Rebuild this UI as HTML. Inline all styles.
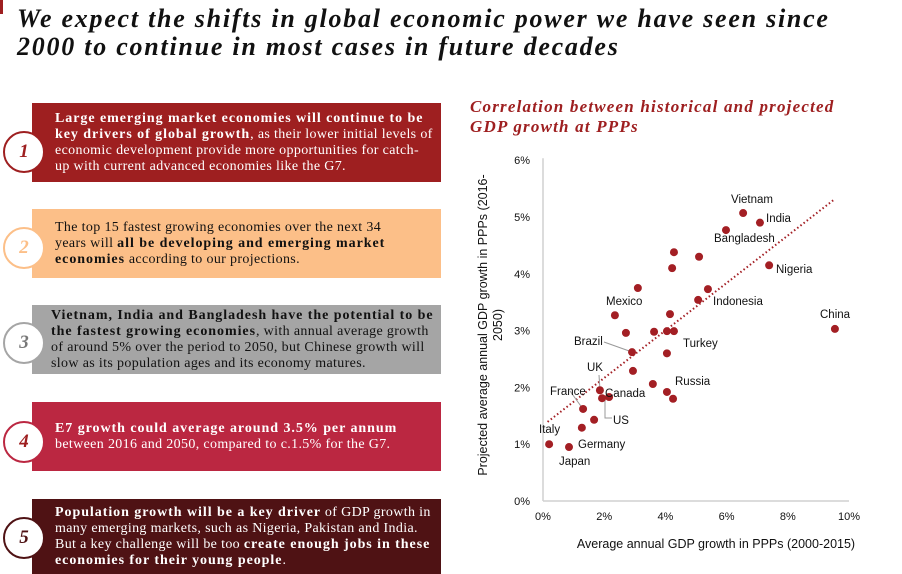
<!DOCTYPE html>
<html><head><meta charset="utf-8">
<style>
body{margin:0;width:902px;height:574px;background:#fff;position:relative;overflow:hidden;font-family:"Liberation Serif",serif}
.abs{position:absolute}
h1{position:absolute;left:17px;top:5px;margin:0;font-size:26px;line-height:28px;font-style:italic;font-weight:bold;color:#111;letter-spacing:1.75px;white-space:nowrap}
.box{position:absolute;left:32px;width:409px;font-size:14px;line-height:16px;letter-spacing:0.35px;box-sizing:border-box;padding-left:23px;padding-right:0;display:flex;align-items:center;white-space:nowrap}
.box b{letter-spacing:0.95px}
.circ{position:absolute;left:3px;width:38px;height:38px;border-radius:50%;background:#fff;border:2px solid;font-style:italic;font-weight:bold;font-size:19px;text-align:center;line-height:38px}
.ct{position:absolute;left:470px;top:97px;font-size:17px;line-height:20px;font-weight:bold;font-style:italic;color:#9e1f20;letter-spacing:1.2px;white-space:nowrap}
</style></head><body>
<div class="abs" style="left:0;top:0;width:3px;height:14px;background:#9e1f20"></div>
<h1>We expect the shifts in global economic power we have seen since<br>2000 to continue in most cases in future decades</h1>

<div class="box" style="top:103px;height:79px;background:#9e1f20;color:#fff"><div><b>Large emerging market economies will continue to be<br>key drivers of global growth</b>, as their lower initial levels of<br>economic development provide more opportunities for catch-<br>up with current advanced economies like the G7.</div></div>
<div class="circ" style="top:131px;border-color:#9e1f20;color:#9e1f20">1</div>

<div class="box" style="top:209px;height:69px;background:#fcbf88;color:#111"><div>The top 15 fastest growing economies over the next 34<br>years will <b>all be developing and emerging market<br>economies</b> according to our projections.</div></div>
<div class="circ" style="top:227px;border-color:#fcbf88;color:#fcbf88">2</div>

<div class="box" style="top:305px;height:69px;background:#a5a5a5;color:#111;padding-left:19px"><div><b>Vietnam, India and Bangladesh have the potential to be<br>the fastest growing economies</b>, with annual average growth<br>of around 5% over the period to 2050, but Chinese growth will<br>slow as its population ages and its economy matures.</div></div>
<div class="circ" style="top:322px;border-color:#a5a5a5;color:#777">3</div>

<div class="box" style="top:402px;height:69px;background:#bb2741;color:#fff"><div><b>E7 growth could average around 3.5% per annum</b><br>between 2016 and 2050, compared to c.1.5% for the G7.</div></div>
<div class="circ" style="top:421px;border-color:#bb2741;color:#9e1f20">4</div>

<div class="box" style="top:499px;height:75px;background:#4f1214;color:#fff"><div><b>Population growth will be a key driver</b> of GDP growth in<br>many emerging markets, such as Nigeria, Pakistan and India.<br>But a key challenge will be too <b>create enough jobs in these<br>economies for their young people</b>.</div></div>
<div class="circ" style="top:517px;border-color:#4f1214;color:#4f1214">5</div>

<div class="ct">Correlation between historical and projected<br>GDP growth at PPPs</div>

<svg class="abs" style="left:0;top:0" width="902" height="574">
<g id="g"></g>
</svg>
<script>
const names=["Vietnam","India","Bangladesh","Nigeria","China","","","","Indonesia","","","","Mexico","","","","","Brazil","Turkey","","","Russia","","UK","Canada","","France","US","","Italy","Japan"];
const histGrowth=[6.54,7.09,5.98,7.39,9.54,4.28,4.22,5.10,5.39,3.10,5.07,4.15,2.35,2.71,3.63,4.05,4.28,2.91,4.05,2.94,3.59,4.05,4.25,1.86,1.93,2.16,1.31,1.67,1.27,0.20,0.85];
const projGrowth=[5.07,4.90,4.77,4.15,3.03,4.38,4.10,4.30,3.73,3.75,3.54,3.29,3.27,2.96,2.98,2.99,2.99,2.62,2.60,2.29,2.06,1.92,1.80,1.95,1.81,1.83,1.62,1.43,1.29,1.00,0.95];
const xTicks=[0,2,4,6,8,10];
const yTicks=[0,1,2,3,4,5,6];
const trendX=[0.15,9.5];
const trendSlope=0.418, trendIntercept=1.33;
const X=v=>543+v*30.6, Y=v=>501-v*56.8;
const NS="http://www.w3.org/2000/svg";
const g=document.getElementById('g');
function mk(t,a,txt){const e=document.createElementNS(NS,t);for(const k in a)e.setAttribute(k,a[k]);if(txt!==undefined)e.textContent=txt;g.appendChild(e);return e;}
const F='font-family:"Liberation Sans",sans-serif;';
let e;
e=mk('line',{x1:543,y1:Y(6)-2,x2:543,y2:501,stroke:'#d0d0d0','stroke-width':1.5});


e=mk('line',{x1:543,y1:501,x2:X(10),y2:501,stroke:'#d0d0d0','stroke-width':1.5});


xTicks.forEach(v=>{e=mk('text',{x:X(v),y:520,'text-anchor':'middle',style:F+'font-size:11px',fill:'#111'},v+'%');

});
yTicks.forEach(v=>{e=mk('text',{x:530,y:Y(v)+4,'text-anchor':'end',style:F+'font-size:11px',fill:'#111'},v+'%');

});
e=mk('text',{x:716,y:548,'text-anchor':'middle',style:F+'font-size:12.5px',fill:'#111'},'Average annual GDP growth in PPPs (2000-2015)');


e=mk('text',{x:0,y:0,'text-anchor':'middle',transform:'translate(487,325) rotate(-90)',style:F+'font-size:12.5px',fill:'#111'},'Projected average annual GDP growth in PPPs (2016-');


e=mk('text',{x:0,y:0,'text-anchor':'middle',transform:'translate(502,325) rotate(-90)',style:F+'font-size:12.5px',fill:'#111'},'2050)');


e=mk('line',{x1:X(trendX[0]),y1:Y(trendIntercept+trendSlope*trendX[0]),x2:X(trendX[1]),y2:Y(trendIntercept+trendSlope*trendX[1]),stroke:'#a31f24','stroke-width':2,'stroke-dasharray':'1.5 2.5'});


const leaders=[[604,342,632,352],[599,375,600,390],[570,391,583,409],[605,398,605,418,612,418]];
leaders.forEach(l=>{const pts=[];for(let i=0;i<l.length;i+=2)pts.push(l[i]+','+l[i+1]);e=mk('polyline',{points:pts.join(' '),fill:'none',stroke:'#999','stroke-width':1});

});
histGrowth.forEach((v,i)=>{e=mk('circle',{cx:X(v),cy:Y(projGrowth[i]),r:4,fill:'#a31f24'});

});
const labels=[["Vietnam",731,203],["India",766,222],["Bangladesh",714,242],["Nigeria",776,273],["China",820,318],["Indonesia",713,305],["Mexico",606,305],["Brazil",574,345],["Turkey",683,347],["Russia",675,385],["UK",587,371],["Canada",605,397],["France",550,395],["US",613,424],["Italy",539,433],["Germany",578,448],["Japan",559,465]];
labels.forEach(l=>{e=mk('text',{x:l[1],y:l[2],style:F+'font-size:11.5px',fill:'#111'},l[0]);

});
</script>
</body></html>
